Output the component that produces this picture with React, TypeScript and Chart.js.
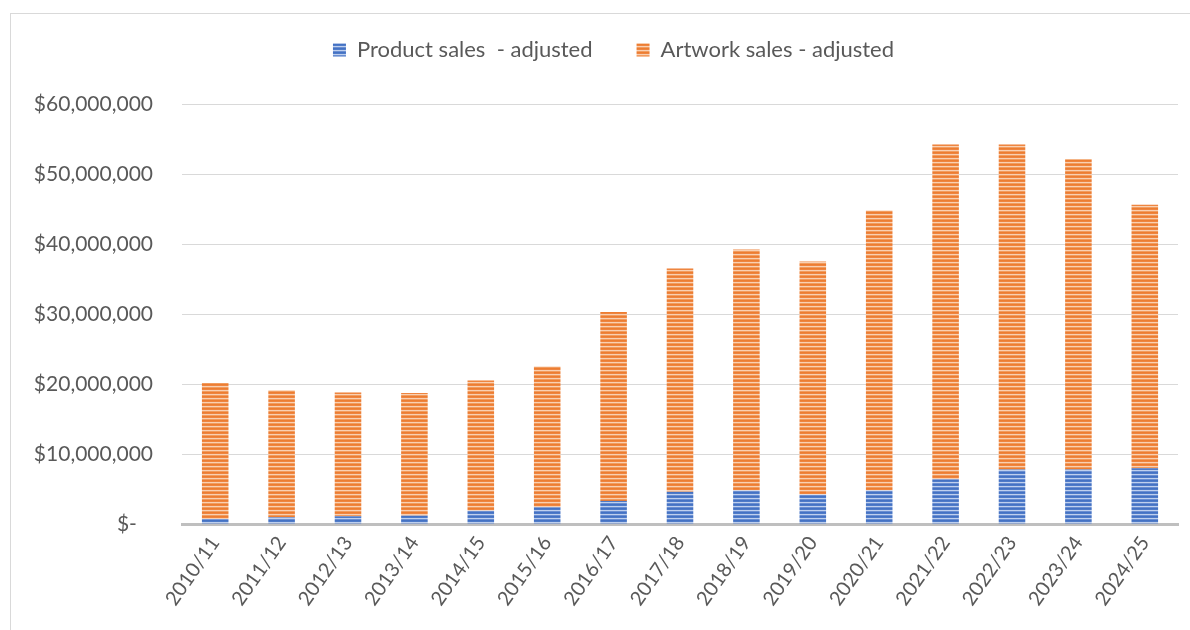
import React, { useEffect, useRef } from "react";
import { Chart, registerables } from "chart.js";

Chart.register(...registerables);

const categories = [
  "2010/11", "2011/12", "2012/13", "2013/14", "2014/15",
  "2015/16", "2016/17", "2017/18", "2018/19", "2019/20",
  "2020/21", "2021/22", "2022/23", "2023/24", "2024/25",
];

const productSales = [
  700000, 950000, 1100000, 1200000, 1900000,
  2400000, 3300000, 4600000, 4800000, 4200000,
  4800000, 6400000, 7800000, 7800000, 7950000,
];

const artworkSales = [
  19450000, 18150000, 17700000, 17500000, 18600000,
  20100000, 27000000, 31900000, 34400000, 33300000,
  40000000, 47800000, 46400000, 44300000, 37650000,
];

const seriesNames = ["Product sales  - adjusted", "Artwork sales - adjusted"];

const yTickValues = [0, 10000000, 20000000, 30000000, 40000000, 50000000, 60000000];
const yTickLabels = [
  "$-   ", "$10,000,000", "$20,000,000", "$30,000,000",
  "$40,000,000", "$50,000,000", "$60,000,000",
];

const TEXT = "#595959";
const FONT = "Lato";

function stripes(colors: string[]): CanvasPattern | string {
  const c = document.createElement("canvas");
  c.width = 4;
  c.height = colors.length;
  const ctx = c.getContext("2d");
  if (!ctx) return colors[0];
  colors.forEach((col, i) => {
    ctx.fillStyle = col;
    ctx.fillRect(0, i, 4, 1);
  });
  return ctx.createPattern(c, "repeat") || colors[0];
}

const legendSpacing = {
  id: "legendSpacing",
  beforeInit(chart: any) {
    const legend = chart.legend;
    if (!legend) return;
    const orig = legend.fit;
    legend.fit = function () {
      orig.call(this);
      this.height = 104;
    };
  },
  afterLayout(chart: any) {
    if (chart.legend) {
      chart.legend.top -= 5;
      chart.legend.left = 49;
    }
  },
};

export default function App() {
  const ref = useRef<HTMLCanvasElement | null>(null);

  useEffect(() => {
    if (!ref.current) return;
    const blue = stripes(["#4472C4", "#4F7BC8", "#BFD0EE", "#6A8ED1"]);
    const orange = stripes(["#ED7D31", "#EE8540", "#F9D0B2", "#F19C5F"]);
    const chart = new Chart(ref.current, {
      type: "bar",
      data: {
        labels: categories,
        datasets: [
          {
            label: seriesNames[0],
            data: productSales,
            backgroundColor: blue as any,
            borderWidth: 0,
            categoryPercentage: 1,
            barPercentage: 0.4,
          },
          {
            label: seriesNames[1],
            data: artworkSales,
            backgroundColor: orange as any,
            borderWidth: 0,
            categoryPercentage: 1,
            barPercentage: 0.4,
          },
        ],
      },
      options: {
        responsive: false,
        animation: false,
        layout: { padding: { left: 0, right: 12, top: 0, bottom: 0 } },
        plugins: {
          legend: {
            position: "top",
            labels: {
              boxWidth: 13,
              boxHeight: 13,
              padding: 44,
              color: TEXT,
              font: { family: FONT, size: 22 },
            },
          },
          tooltip: { enabled: false },
        },
        scales: {
          x: {
            stacked: true,
            grid: { display: false, drawTicks: false },
            border: { display: true, color: "#BFBFBF", width: 3 },
            ticks: {
              color: TEXT,
              font: { family: FONT, size: 20 },
              padding: 8,
              autoSkip: false,
              minRotation: 55,
              maxRotation: 55,
            },
            afterFit: (s: any) => {
              s.height = 106;
            },
          },
          y: {
            stacked: true,
            min: 0,
            max: 60000000,
            grid: { color: "#D9D9D9", lineWidth: 1, drawTicks: false },
            border: { display: false },
            ticks: {
              stepSize: 10000000,
              padding: 29,
              color: TEXT,
              font: { family: FONT, size: 21 },
              callback: (v: any) => {
                const i = yTickValues.indexOf(Number(v));
                return i >= 0 ? yTickLabels[i] : "";
              },
            },
            afterFit: (s: any) => {
              s.width = 182;
            },
          },
        },
      },
      plugins: [legendSpacing],
    });
    return () => chart.destroy();
  }, []);

  return (
    <>
      <div
        style={{
          position: "fixed",
          left: 10,
          top: 13,
          width: 1300,
          height: 700,
          border: "1px solid #D9D9D9",
          boxSizing: "border-box",
        }}
      />
      <canvas
        ref={ref}
        width={1190}
        height={630}
        style={{ position: "fixed", left: 0, top: 0, width: 1190, height: 630 }}
      />
    </>
  );
}
